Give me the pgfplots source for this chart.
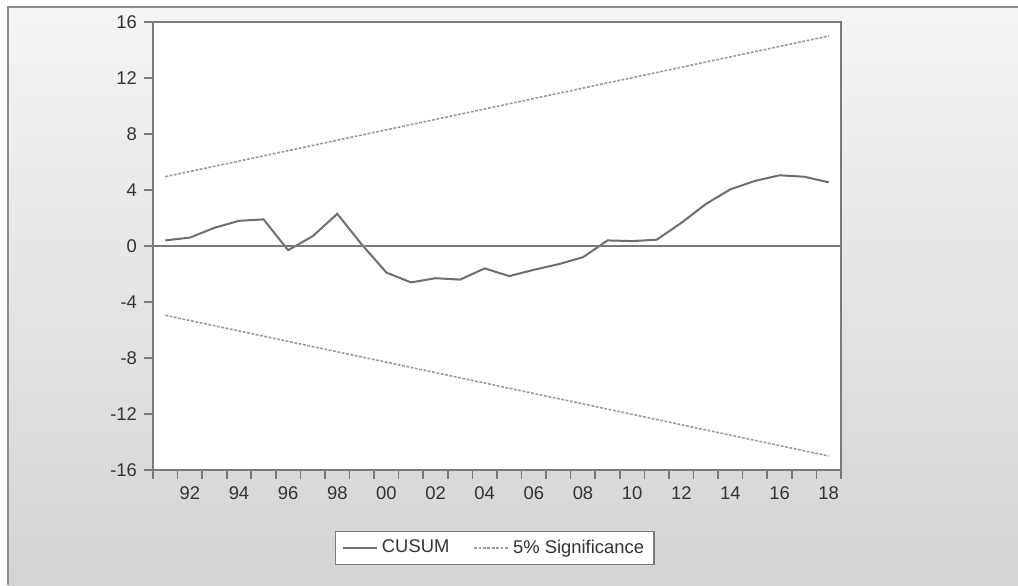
\documentclass[border=0pt]{standalone}
\usepackage{pgfplots}
\pgfplotsset{compat=1.18}
\usepackage{fontspec}
\setmainfont{Liberation Sans}
\definecolor{linegray}{HTML}{6E6E6E}
\definecolor{bandgray}{HTML}{9A9A9A}
\definecolor{axgray}{HTML}{7A7A7A}
\definecolor{txtgray}{HTML}{333333}
\begin{document}
\begin{tikzpicture}
\useasboundingbox (0,0) rectangle (509pt,292.5pt);
\fill[white] (0,0) rectangle (509pt,292.5pt);
\shade[top color=black!4, bottom color=black!17] (4pt,0) rectangle (509pt,289pt);
\draw[black!45, line width=0.8pt] (4pt,0) -- (4pt,289pt) -- (509pt,289pt);
\begin{axis}[
  at={(76.5pt,57.5pt)}, anchor=south west,
  scale only axis, width=344pt, height=224pt,
  xmin=1990.5, xmax=2018.5, ymin=-16, ymax=16,
  axis background/.style={fill=white},
  axis line style={axgray, line width=0.9pt},
  ytick={-16,-12,...,16},
  xtick={1990.5,1991.5,...,2018.5},
  xticklabels={},
  extra x ticks={1992,1994,...,2018},
  extra x tick labels={92,94,96,98,00,02,04,06,08,10,12,14,16,18},
  extra x tick style={major tick length=0pt, xticklabel style={yshift=-5pt}},
  tick align=outside, xtick pos=bottom, ytick pos=left,
  major tick length=4.5pt,
  tick style={axgray, line width=0.8pt},
  tick label style={font=\fontsize{9.2}{10}\selectfont, text=txtgray},
  /pgf/number format/assume math mode=true,
  legend style={at={(0.497,-0.174)}, anchor=center, legend columns=2,
    draw=axgray, line width=0.6pt, fill=white,
    font=\fontsize{9.2}{10}\selectfont, text=txtgray,
    /tikz/every even column/.append style={column sep=10pt}},
  legend cell align=left,
]
\addplot[linegray, line width=1pt] coordinates {
(1991,0.4) (1992,0.6) (1993,1.3) (1994,1.8) (1995,1.9) (1996,-0.3)
(1997,0.7) (1998,2.3) (1999,0.1) (2000,-1.9) (2001,-2.6) (2002,-2.3)
(2003,-2.4) (2004,-1.6) (2005,-2.15) (2006,-1.7) (2007,-1.3) (2008,-0.8)
(2009,0.4) (2010,0.35) (2011,0.45) (2012,1.65) (2013,3.0) (2014,4.05)
(2015,4.65) (2016,5.05) (2017,4.95) (2018,4.55)};
\addlegendentry{CUSUM}
\addplot[bandgray, line width=0.8pt, dash pattern=on 1.4pt off 0.8pt] coordinates {(1991,4.95) (2018,15.0)};
\addlegendentry{5\% Significance}
\addplot[bandgray, line width=0.8pt, dash pattern=on 1.4pt off 0.8pt, forget plot] coordinates {(1991,-4.95) (2018,-15.0)};
\addplot[axgray, line width=0.8pt, forget plot] coordinates {(1990.5,0) (2018.5,0)};
\end{axis}
\end{tikzpicture}
\end{document}
